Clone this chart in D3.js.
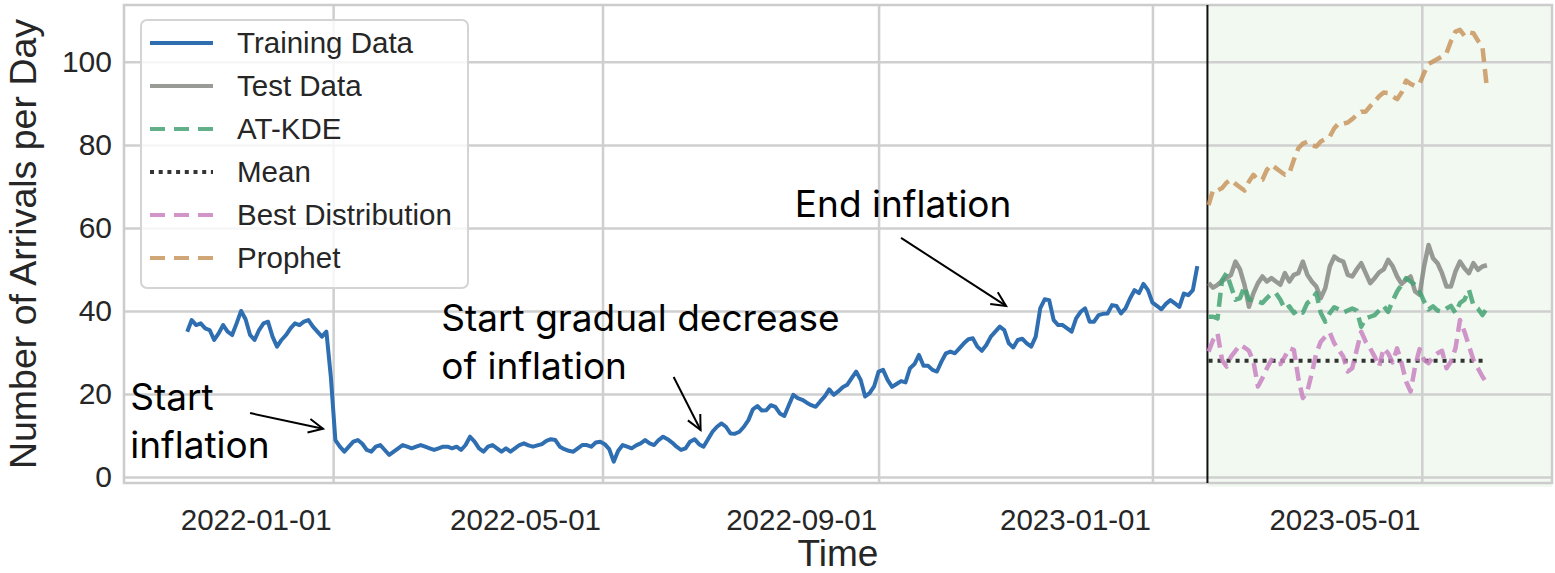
<!DOCTYPE html>
<html><head><meta charset="utf-8">
<script src="https://cdn.jsdelivr.net/npm/d3@7"></script>
<style>body{margin:0;background:#fff} svg{display:block}</style>
</head><body><svg id="c" width="1555" height="573"></svg>
<script>
// ---------------- data ----------------
const trainStart = "2021-10-28";
const trainStepDays = 2;
const trainValues = [
 35.0,37.8,36.6,37.0,35.8,35.4,33.0,34.6,36.6,35.0,34.2,37.0,40.0,38.0,34.2,33.0,35.4,37.0,37.4,33.8,31.4,33.0,34.2,35.8,37.0,36.6,37.4,37.8,36.2,35.0,33.8,35.0,
 24.0,
 8.9,7.3,6.1,7.3,8.5,8.9,8.0,6.5,6.1,7.3,7.7,6.5,5.3,6.1,6.9,7.7,7.3,6.9,7.3,7.7,7.3,6.9,6.5,6.9,7.3,7.3,6.9,7.3,6.5,7.7,9.7,8.5,6.9,6.1,7.3,7.7,6.9,6.1,6.9,
 6.1,6.9,7.7,8.1,7.6,7.3,7.6,7.9,8.7,9.1,8.9,7.3,6.7,6.3,6.1,6.9,7.7,7.7,7.3,8.3,8.5,7.9,6.7,3.7,6.3,7.7,7.3,6.9,7.6,8.1,8.9,8.1,7.7,8.9,9.7,9.1,8.3,7.3,6.5,6.9,8.5,9.1,7.9,7.3,9.1,10.9,12.1,12.9,12.1,10.5,10.4,10.9,12.1,13.7,16.3,17.1,16.0,16.1,17.3,16.9,15.3,14.7,17.3,19.8,19.0,18.6,17.9,17.3,16.9,18.2,19.4,21.1,19.8,20.6,21.6,22.2,23.8,25.4,23.4,19.4,20.2,21.8,25.4,25.8,23.4,21.7,22.4,
 23.1,22.8,26.2,27.2,29.4,26.8,26.8,25.8,25.4,27.8,29.8,30.2,29.8,31.0,32.2,33.2,33.4,31.4,30.4,31.8,33.8,35.0,36.2,35.4,32.2,31.2,33.0,33.3,32.2,31.4,33.8,40.6,42.8,42.6,37.8,36.6,36.6,35.8,35.0,38.2,39.8,40.6,37.4,37.4,39.0,39.3,39.4,41.4,41.2,39.4,40.6,43.0,45.0,44.3,46.5,45.0,42.0,41.2,40.4,41.7,42.6,41.8,41.0,44.2,43.8,45.0,50.8
];
const testStart = "2023-01-26";
const testStepDays = 2;
const testValues = [46.7,45.6,46.3,47.2,47.9,48.7,51.9,50.0,46.3,41.0,44.3,46.7,48.3,47.1,47.9,47.1,46.3,49.1,47.1,48.7,49.1,51.9,48.7,47.1,45.9,43.1,45.5,50.7,53.1,52.3,51.9,48.7,48.3,50.0,51.5,49.1,46.7,47.9,49.3,50.0,52.3,50.8,48.3,46.5,47.5,48.3,44.7,43.9,50.7,55.9,52.7,51.5,49.1,45.9,45.9,49.5,51.9,50.3,49.1,51.5,49.9,50.7,51.0];
const atkdeValues = [38.6,38.6,38.2,47.4,49.1,45.9,42.7,43.1,45.9,42.7,42.7,42.3,41.9,43.1,44.1,44.3,42.7,40.4,41.1,39.5,40.3,39.6,41.9,42.7,44.3,39.5,37.4,39.5,40.9,40.4,39.6,40.1,40.6,40.1,36.2,38.2,38.6,39.0,40.1,41.2,39.8,42.4,44.7,46.3,47.9,47.1,46.3,44.7,42.3,40.4,41.1,40.1,39.8,40.6,41.2,39.5,41.9,42.7,45.1,41.4,40.6,39.0,40.6];
const bestDistValues = [30.2,33.0,34.6,28.2,26.6,29.0,30.4,31.8,31.2,30.4,27.8,21.8,23.8,26.2,28.2,27.0,27.2,29.0,31.0,30.6,23.8,19.0,20.6,25.0,29.8,32.6,33.8,34.8,32.2,30.6,29.0,25.4,26.2,30.6,35.0,32.6,31.0,29.0,26.6,31.0,29.8,27.6,31.0,27.4,23.0,20.6,26.6,30.8,28.2,27.4,29.0,29.8,30.4,26.2,27.8,31.0,37.8,35.0,31.6,28.2,26.2,24.2,22.6];
const prophetValues = [65.5,69.1,69.0,69.6,70.9,71.6,70.6,69.8,69.0,71.2,72.8,71.6,71.6,74.0,75.2,74.4,73.6,72.8,73.2,76.4,79.2,80.3,80.8,80.0,79.6,80.8,81.4,82.0,84.0,85.2,85.1,85.4,86.2,87.2,88.0,88.0,89.3,90.5,91.7,92.6,92.5,91.7,91.0,92.6,95.5,94.7,94.2,94.7,97.3,99.5,100.1,100.7,101.3,102.1,105.0,107.3,107.7,106.3,107.1,106.9,105.1,103.7,93.7];
const meanValue = 28.0;

const xTickLabels = ["2022-01-01","2022-05-01","2022-09-01","2023-01-01","2023-05-01"];
const yTicks = [0,20,40,60,80,100];
const xDomain = ["2021-09-29T20:00:00Z","2023-06-28T00:00:00Z"];
const yDomain = [-1.45, 113.7];

const legendLabels = ["Training Data","Test Data","AT-KDE","Mean","Best Distribution","Prophet"];

// annotations: arrow tail/tip and text anchors in (days from 2022-01-01, value)
const annotations = [
  {lines:["Start","inflation"], text:[-90.4,16.1], tail:[-37.0,15.4], tip:[-4.5,11.6]},
  {lines:["Start gradual decrease","of inflation"], text:[48.2,35.2], tail:[151.7,24.1], tip:[163.7,11.3]},
  {lines:["End inflation"], text:[205.7,62.6], tail:[253.0,57.6], tip:[299.8,41.2]}
];

// ---------------- chart ----------------
const L=124, R=1552, T=5, B=483;
const svg = d3.select("#c");
const parse = d3.utcParse("%Y-%m-%d");
const x = d3.scaleUtc().domain(xDomain.map(d=>new Date(d))).range([L,R]);
const y = d3.scaleLinear().domain(yDomain).range([B,T]);
const ref = Date.UTC(2022,0,1);
const dayDate = d => new Date(ref + d*864e5);

const seq = (start, step, vals) => vals.map((v,i)=>({date:d3.utcDay.offset(parse(start), i*step), v}));
const train = seq(trainStart, trainStepDays, trainValues);
const test = seq(testStart, testStepDays, testValues);
const atkde = seq(testStart, testStepDays, atkdeValues);
const best = seq(testStart, testStepDays, bestDistValues);
const prophet = seq(testStart, testStepDays, prophetValues);
const mean = test.map(d=>({date:d.date, v:meanValue}));

const splitDate = new Date(parse(testStart).getTime() - 12*3600e3);

svg.append("rect").attr("width",1555).attr("height",573).attr("fill","#fff");

// shaded test region
svg.append("rect").attr("x",x(splitDate)).attr("y",T).attr("width",R-x(splitDate)).attr("height",B-T+4)
  .attr("fill","#f2f9f1");

const tickFont = "'Liberation Sans',Arial,sans-serif";
// grid via axes
const gy = svg.append("g").attr("transform",`translate(${L},0)`)
  .call(d3.axisLeft(y).tickValues(yTicks).tickSize(-(R-L)).tickPadding(12));
gy.select(".domain").remove();
gy.selectAll(".tick line").attr("stroke","#cfcfcf").attr("stroke-width",2.5);
gy.selectAll(".tick text").attr("font-family",tickFont).attr("font-size",30).attr("fill","#262626");

const gx = svg.append("g").attr("transform",`translate(0,${B})`)
  .call(d3.axisBottom(x).tickValues(xTickLabels.map(parse)).tickSize(-(B-T)).tickFormat(d3.utcFormat("%Y-%m-%d")));
gx.select(".domain").remove();
gx.selectAll(".tick line").attr("stroke","#cfcfcf").attr("stroke-width",2.5);
gx.selectAll(".tick text").attr("font-family",tickFont).attr("font-size",29.5).attr("fill","#262626")
  .attr("text-anchor","end").attr("x",-2).attr("y",47).attr("dy",0);

// spines
svg.append("rect").attr("x",L).attr("y",T).attr("width",R-L).attr("height",B-T)
  .attr("fill","none").attr("stroke","#cccccc").attr("stroke-width",2.5);

// split line
svg.append("line").attr("x1",x(splitDate)).attr("x2",x(splitDate)).attr("y1",T).attr("y2",B)
  .attr("stroke","#111").attr("stroke-width",2);

const line = d3.line().x(d=>x(d.date)).y(d=>y(d.v));
const styles = {
  train:{stroke:"#2f6fb1", w:4, dash:null, op:1},
  test:{stroke:"#7f827d", w:4.5, dash:null, op:0.8},
  atkde:{stroke:"#45a274", w:4.5, dash:"14,7", op:0.85},
  mean:{stroke:"#111", w:4, dash:"4,5", op:0.85},
  best:{stroke:"#c983c1", w:4.5, dash:"14,7", op:0.85},
  prophet:{stroke:"#c9975f", w:4.5, dash:"14,7", op:0.85}
};
function draw(data, s){
  svg.append("path").datum(data).attr("d",line).attr("fill","none")
    .attr("stroke",s.stroke).attr("stroke-width",s.w).attr("stroke-opacity",s.op)
    .attr("stroke-dasharray",s.dash).attr("stroke-linejoin","round");
}
draw(train, styles.train);
draw(test, styles.test);
draw(atkde, styles.atkde);
draw(mean, styles.mean);
draw(best, styles.best);
draw(prophet, styles.prophet);

// legend
const lg = svg.append("g");
lg.append("rect").attr("x",141).attr("y",20).attr("width",327).attr("height",268).attr("rx",6)
  .attr("fill","#fff").attr("fill-opacity",0.8).attr("stroke","#d4d4d4").attr("stroke-width",2);
const legendStyles=[styles.train,styles.test,styles.atkde,styles.mean,styles.best,styles.prophet];
legendLabels.forEach((lab,i)=>{
  const cy = 43 + i*43;
  const s = legendStyles[i];
  lg.append("line").attr("x1",150).attr("x2",213).attr("y1",cy).attr("y2",cy)
    .attr("stroke",s.stroke).attr("stroke-width",4).attr("stroke-opacity",s.op)
    .attr("stroke-dasharray",s.dash ? (s.dash==="4,5"?"4,4.7":"15,9") : null);
  lg.append("text").attr("x",237).attr("y",cy+10).text(lab)
    .attr("font-family",tickFont).attr("font-size",29.5).attr("fill","#262626");
});

// axis labels
svg.append("text").attr("x",(L+R)/2).attr("y",566).attr("text-anchor","middle").text("Time")
  .attr("font-family",tickFont).attr("font-size",37).attr("fill","#262626");
svg.append("text").attr("transform",`translate(36,${(T+B)/2}) rotate(-90)`).attr("text-anchor","middle")
  .text("Number of Arrivals per Day")
  .attr("font-family",tickFont).attr("font-size",37.5).attr("fill","#262626");

// annotations
annotations.forEach(a=>{
  const tx = x(dayDate(a.text[0])), ty = y(a.text[1]);
  a.lines.forEach((ln,i)=>{
    svg.append("text").attr("x",tx).attr("y",ty + i*48).text(ln)
      .attr("font-family","Inter,'Noto Sans',sans-serif").attr("font-size",37).attr("fill","#000");
  });
  const x1=x(dayDate(a.tail[0])), y1=y(a.tail[1]), x2=x(dayDate(a.tip[0])), y2=y(a.tip[1]);
  svg.append("line").attr("x1",x1).attr("y1",y1).attr("x2",x2).attr("y2",y2).attr("stroke","#000").attr("stroke-width",2);
  const ang = Math.atan2(y2-y1,x2-x1), hl=16, ha=0.45;
  const p = d3.path();
  p.moveTo(x2 - hl*Math.cos(ang-ha), y2 - hl*Math.sin(ang-ha));
  p.lineTo(x2,y2);
  p.lineTo(x2 - hl*Math.cos(ang+ha), y2 - hl*Math.sin(ang+ha));
  svg.append("path").attr("d",p.toString()).attr("fill","none").attr("stroke","#000").attr("stroke-width",2);
});
</script></body></html>
